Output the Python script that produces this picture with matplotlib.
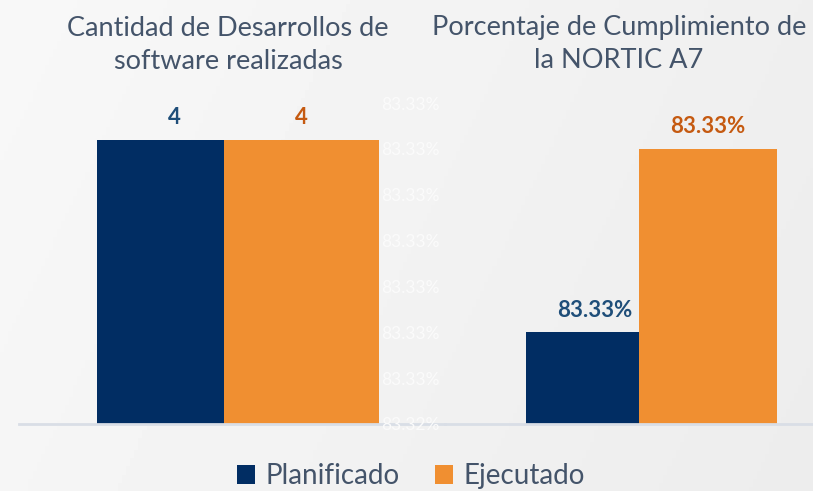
import numpy as np
import matplotlib
matplotlib.use("Agg")
import matplotlib.pyplot as plt
from matplotlib.patches import Patch
from matplotlib.ticker import FixedLocator, FuncFormatter

# ---------------------------------------------------------------------
# Data
# ---------------------------------------------------------------------
series = ["Planificado", "Ejecutado"]
desarrollos = [4, 4]                      # Cantidad de desarrollos
cumplimiento = [83.3262, 83.3302]         # % cumplimiento NORTIC A7
pct_ticks = [83.3242, 83.3252, 83.3262, 83.3272, 83.3282, 83.3292, 83.3302, 83.3312]

title_left = "Cantidad de Desarrollos de\nsoftware realizadas"
title_right = "Porcentaje de Cumplimiento de\nla NORTIC A7"

# ---------------------------------------------------------------------
# Style
# ---------------------------------------------------------------------
NAVY = "#012D63"
ORANGE = "#F08F31"
NAVY_TXT = "#1F4E79"
ORANGE_TXT = "#C55A11"
TEXT = "#44546A"
BASE = "#D9DEE6"
plt.rcParams["font.family"] = ["Lato", "DejaVu Sans"]

W, H = 813, 491
fig = plt.figure(figsize=(W / 100, H / 100), dpi=100)

# background gradient
bg = fig.add_axes([0, 0, 1, 1])
gx = np.linspace(0, 1, 200)
gy = np.linspace(0, 1, 120)
X, Y = np.meshgrid(gx, gy)
grad = 0.972 - 0.035 * X - 0.01 * Y
bg.imshow(grad, cmap="gray", vmin=0, vmax=1, aspect="auto", extent=[0, 1, 0, 1])
bg.set_axis_off()


def px_axes(x0, x1, ytop, ybot):
    return fig.add_axes([x0 / W, 1 - ybot / H, (x1 - x0) / W, (ybot - ytop) / H])


ax1 = px_axes(19, 445, 103, 424)
ax2 = px_axes(445, 813, 103, 424)

# bar geometry in axes units (left edge, width)
geo1 = [(0.183, 0.298), (0.481, 0.364)]
geo2 = [(0.220, 0.307), (0.527, 0.375)]
colors = [NAVY, ORANGE]
txt_colors = [NAVY_TXT, ORANGE_TXT]
label_frac = [0.61, 0.5]

for ax in (ax1, ax2):
    ax.set_facecolor("none")
    ax.set_xlim(0, 1)
    for s in ("top", "right", "left"):
        ax.spines[s].set_visible(False)
    ax.spines["bottom"].set_color(BASE)
    ax.spines["bottom"].set_linewidth(2)
    ax.set_xticks([])

# left panel
ax1.set_ylim(0, 4.521)
ax1.set_yticks([])
for i, v in enumerate(desarrollos):
    x0, w = geo1[i]
    ax1.bar(x0, v, width=w, align="edge", color=colors[i], label=series[i])
    ax1.annotate(f"{v}", (x0 + w * label_frac[i], v), xytext=(0, 16),
                 textcoords="offset points", ha="center", va="center",
                 fontsize=16, fontweight="bold", color=txt_colors[i])

# right panel
ax2.set_ylim(pct_ticks[0], pct_ticks[-1])
ax2.yaxis.set_major_locator(FixedLocator(pct_ticks))
ax2.yaxis.set_major_formatter(FuncFormatter(lambda v, p: f"{v:.2f}%"))
ax2.tick_params(axis="y", length=0, pad=4, labelsize=12.5, labelcolor="#FBFBFB")
for i, v in enumerate(cumplimiento):
    x0, w = geo2[i]
    ax2.bar(x0, v - pct_ticks[0], bottom=pct_ticks[0], width=w, align="edge",
            color=colors[i])
    ax2.annotate(f"{v:.2f}%", (x0 + w * label_frac[i], v), xytext=(0, 16),
                 textcoords="offset points", ha="center", va="center",
                 fontsize=16, fontweight="bold", color=txt_colors[i])

# titles
fig.text(228 / W, 1 - 45 / H, title_left, ha="center", va="center",
         fontsize=19.5, color=TEXT, linespacing=1.42)
fig.text(619 / W, 1 - 44 / H, title_right, ha="center", va="center",
         fontsize=19.5, color=TEXT, linespacing=1.42)

# legend
handles = [Patch(facecolor=c, edgecolor="none") for c in colors]
fig.legend(handles, series, loc="center", bbox_to_anchor=(411 / W, 1 - 476 / H),
           ncol=2, frameon=False, fontsize=20, handlelength=0.65, handleheight=0.65,
           handletextpad=0.35, columnspacing=1.3, labelcolor=TEXT)

fig.savefig("out.png", dpi=100)
